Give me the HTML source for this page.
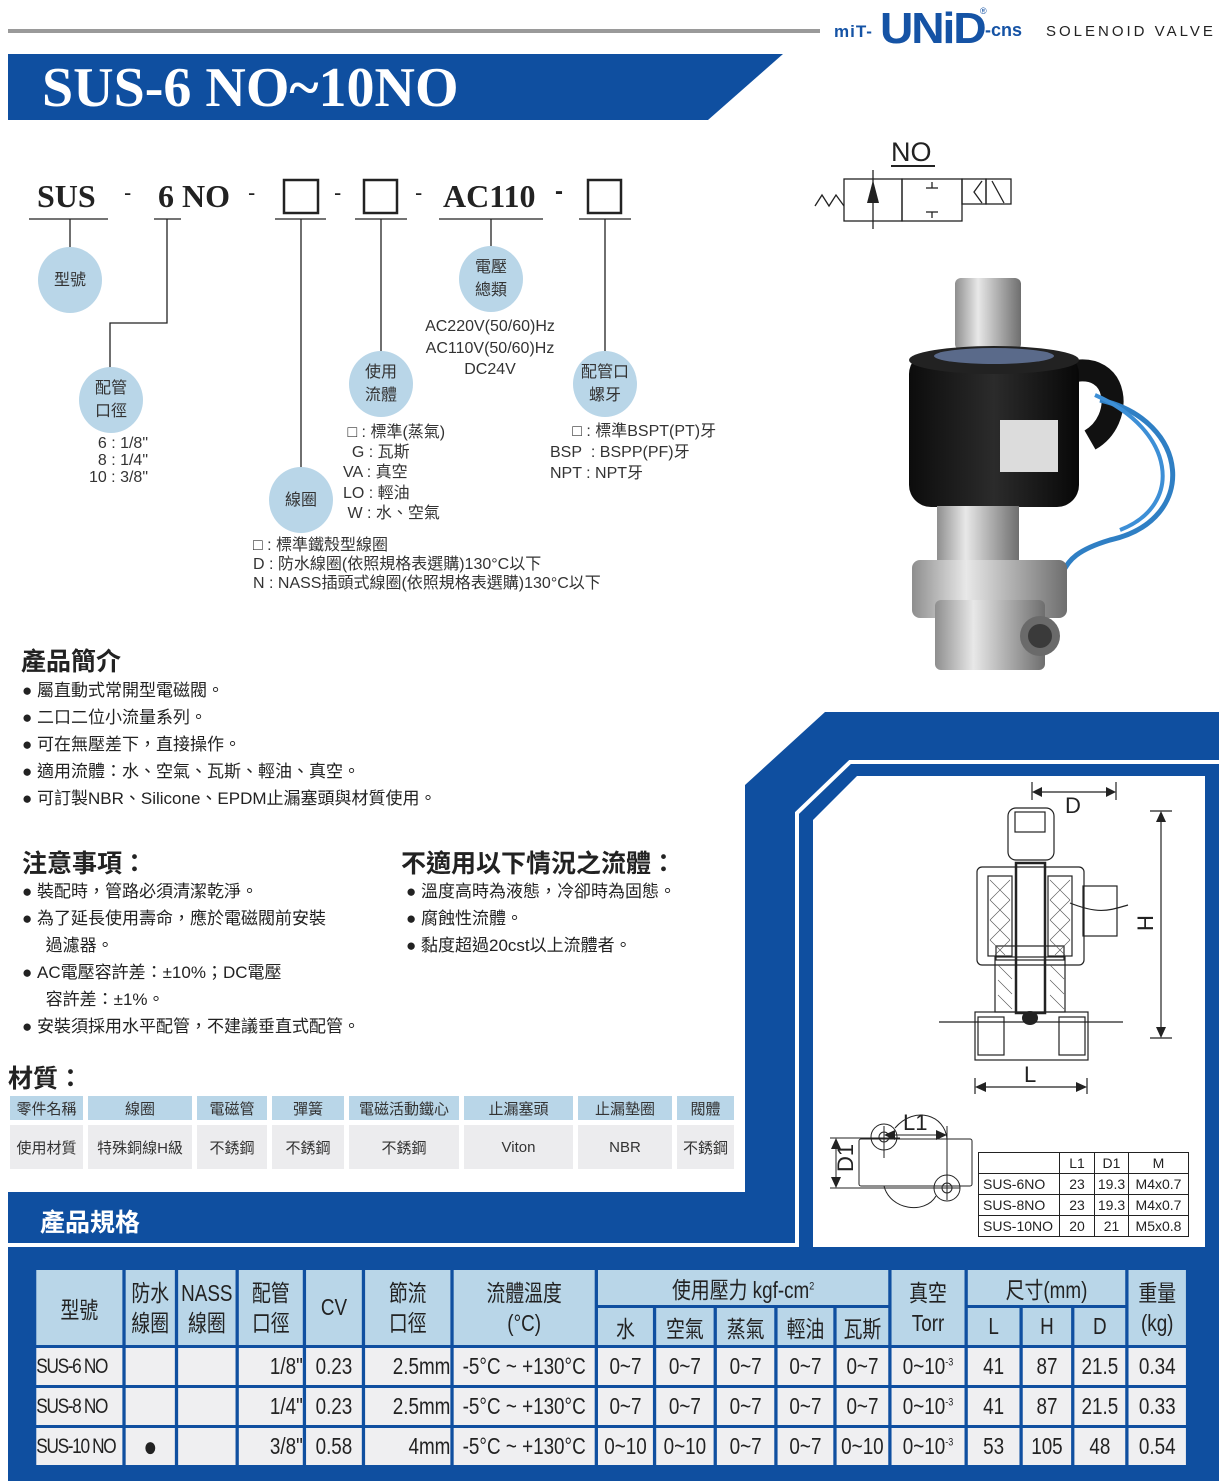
<!DOCTYPE html>
<html><head><meta charset="utf-8">
<style>
*{margin:0;padding:0;box-sizing:border-box}
body{width:1229px;height:1481px;position:relative;background:#fff;overflow:hidden;font-family:"Liberation Sans","Noto Sans CJK TC",sans-serif;color:#222}
.a{position:absolute;white-space:nowrap}
.serif{font-family:"Liberation Serif","Noto Serif CJK SC",serif;font-weight:bold}
.c{position:absolute;background:#b9d6e8;border-radius:50%;width:64px;height:66px;display:flex;align-items:center;justify-content:center;text-align:center;font-size:16px;line-height:23px;color:#333}
.t15{font-size:15px;line-height:19px;color:#333}
.h2{font-size:25px;font-weight:bold;color:#222}
.b{font-size:17px;color:#222}
table{border-collapse:separate;position:absolute}
#spec{left:33px;top:1267px;width:1410px;table-layout:fixed;border-spacing:4px 3px;font-size:23px;color:#222;transform:scaleX(0.82);transform-origin:0 0}
#spec td{text-align:center;padding:0;white-space:nowrap;overflow:hidden}
#spec td.m{text-align:left;font-size:21px;letter-spacing:-1.6px}
#spec .h td{background:#b9d6e8}
#spec .d td{background:#efeff1;height:37px}
#mat{left:5px;top:1091px;border-spacing:5px 5px;font-size:15px;color:#333}
#mat td{text-align:center;padding:0;white-space:nowrap}
#mat .h td{background:#b9d6e8;height:24px}
#mat .d td{background:#ececee;height:44px}
#dim{position:absolute;left:978px;top:1152px;border-collapse:collapse;font-size:14px;color:#222}
#dim td{border:1px solid #222;height:21px;text-align:center;padding:0}
</style></head><body>

<div class="a" style="left:8px;top:29px;width:812px;height:4px;background:#9a9a9a"></div>
<div class="a" style="left:834px;top:22px;font-size:17px;font-weight:bold;color:#1553a5;letter-spacing:1px">miT-</div>
<div class="a" style="left:880px;top:6px;font-size:44px;font-weight:bold;color:#1553a5;letter-spacing:-2px;line-height:46px;transform:scaleX(1.05);transform-origin:left">UNiD</div>
<div class="a" style="left:980px;top:6px;font-size:9px;color:#1553a5">®</div>
<div class="a" style="left:985px;top:20px;font-size:18px;font-weight:bold;color:#1553a5">-cns</div>
<div class="a" style="left:1046px;top:23px;font-size:15px;letter-spacing:3px;color:#222">SOLENOID VALVE</div>

<svg class="a" style="left:0;top:0" width="1229" height="1481">
<polygon points="8,54 783,54 708,120 8,120" fill="#0f4fa0"/>
<polygon points="745,785 825,712 1219,712 1219,1481 8,1481 8,1192 745,1192" fill="#0f4fa0"/>
<polyline points="8,1245 797,1245 797,813 850,762 1219,762" fill="none" stroke="#fff" stroke-width="4"/>
<polygon points="813,820 857,776 1205,776 1205,1247 813,1247" fill="#fff"/>

<g stroke="#222" stroke-width="1.3" fill="none">
<line x1="29" y1="219" x2="108" y2="219"/><line x1="154" y1="219" x2="181" y2="219"/>
<line x1="275" y1="219" x2="326" y2="219"/><line x1="355" y1="219" x2="407" y2="219"/>
<line x1="439" y1="219" x2="543" y2="219"/><line x1="579" y1="219" x2="631" y2="219"/>
<line x1="70" y1="219" x2="70" y2="250"/>
<polyline points="167,219 167,323 110,323 110,370"/>
<line x1="301" y1="219" x2="301" y2="470"/>
<line x1="381" y1="219" x2="381" y2="355"/>
<line x1="491" y1="219" x2="491" y2="248"/>
<line x1="605" y1="219" x2="605" y2="355"/>
</g>
<g stroke="#222" stroke-width="2.5" fill="none">
<rect x="284" y="180" width="34" height="33"/><rect x="364" y="180" width="33" height="33"/><rect x="588" y="180" width="33" height="33"/>
</g>

<g stroke="#222" stroke-width="1.3" fill="none">
<line x1="891" y1="166" x2="935" y2="166" stroke-width="2"/>
<rect x="844" y="179" width="58" height="42"/><rect x="902" y="179" width="60" height="42"/>
<rect x="962" y="179" width="24" height="25"/><rect x="986" y="179" width="25" height="25"/>
<polyline points="815,206 822,195 829,206 836,195 844,206"/>
<line x1="873" y1="170" x2="873" y2="229"/>
<line x1="932" y1="182" x2="932" y2="188"/><line x1="926" y1="188" x2="938" y2="188"/>
<line x1="932" y1="212" x2="932" y2="218"/><line x1="926" y1="212" x2="938" y2="212"/>
<polyline points="982,181 974,192 982,203"/><line x1="992" y1="181" x2="1004" y2="203"/>
</g>
<polygon points="873,180 867,203 879,203" fill="#222"/>

<defs>
<linearGradient id="ss" x1="0" x2="1"><stop offset="0" stop-color="#8e8e8e"/><stop offset=".35" stop-color="#e8e8e8"/><stop offset=".6" stop-color="#b8b8b8"/><stop offset="1" stop-color="#6e6e6e"/></linearGradient>
<linearGradient id="bk" x1="0" x2="1"><stop offset="0" stop-color="#0c0c0c"/><stop offset=".5" stop-color="#2b2b2b"/><stop offset="1" stop-color="#080808"/></linearGradient>
</defs>
<rect x="955" y="278" width="66" height="72" rx="6" fill="url(#ss)"/>
<path d="M1070 372 C1120 360 1125 420 1090 440" stroke="#111" stroke-width="22" fill="none"/>
<path d="M1100 400 C1190 420 1200 520 1110 540 C1060 555 1070 570 1055 580" stroke="#2f7fc4" stroke-width="5" fill="none"/>
<path d="M1095 395 C1175 430 1185 505 1120 530" stroke="#3d8fd6" stroke-width="4" fill="none"/>
<rect x="909" y="352" width="170" height="155" rx="22" fill="url(#bk)"/>
<ellipse cx="994" cy="360" rx="85" ry="14" fill="#222"/>
<ellipse cx="994" cy="356" rx="60" ry="8" fill="#5a6a8a"/>
<rect x="1000" y="420" width="58" height="52" fill="#dcdcdc"/>
<rect x="937" y="506" width="82" height="62" fill="url(#ss)"/>
<rect x="912" y="560" width="155" height="58" rx="8" fill="url(#ss)"/>
<rect x="935" y="600" width="110" height="70" rx="6" fill="url(#ss)"/>
<circle cx="1040" cy="636" r="20" fill="#6a6a6a"/><circle cx="1040" cy="636" r="12" fill="#3a3a3a"/>

<g stroke="#222" stroke-width="1.2" fill="none">
<line x1="1032" y1="782" x2="1032" y2="800"/><line x1="1116" y1="782" x2="1116" y2="800"/>
<line x1="1038" y1="792" x2="1110" y2="792"/>
<line x1="1150" y1="811" x2="1172" y2="811"/><line x1="1150" y1="1038" x2="1172" y2="1038"/>
<line x1="1161" y1="818" x2="1161" y2="1030"/>
<line x1="975" y1="1078" x2="975" y2="1094"/><line x1="1087" y1="1078" x2="1087" y2="1094"/>
<line x1="981" y1="1087" x2="1081" y2="1087"/>
<rect x="1008" y="808" width="46" height="52" rx="8"/>
<rect x="1015" y="812" width="30" height="20"/>
<rect x="977" y="867" width="107" height="98" rx="5"/>
<rect x="988" y="876" width="24" height="80"/><rect x="1048" y="876" width="24" height="80"/>
<rect x="1016" y="863" width="29" height="150" stroke-width="2.5"/>
<rect x="1083" y="886" width="34" height="50"/>
<rect x="996" y="946" width="68" height="14"/>
<rect x="995" y="957" width="70" height="55"/>
<rect x="975" y="1012" width="113" height="48"/>
<rect x="978" y="1017" width="26" height="38"/><rect x="1059" y="1017" width="26" height="38"/>
<line x1="939" y1="1022" x2="1123" y2="1022"/>
<path d="M1070 903 C1100 915 1110 910 1128 905"/>
</g>
<g stroke="#555" stroke-width=".6">
<path d="M990 880 L1010 900 M990 900 L1010 880 M990 900 L1010 920 M990 920 L1010 900 M990 920 L1010 940 M990 940 L1010 920 M990 940 L1005 955 M995 955 L1010 940"/>
<path d="M1050 880 L1070 900 M1050 900 L1070 880 M1050 900 L1070 920 M1050 920 L1070 900 M1050 920 L1070 940 M1050 940 L1070 920 M1050 940 L1065 955 M1055 955 L1070 940"/>
<path d="M998 965 L1012 979 M998 980 L1012 994 M998 995 L1012 1009 M1050 965 L1064 979 M1050 980 L1064 994 M1050 995 L1064 1009"/>
</g>
<ellipse cx="1030" cy="1018" rx="8" ry="7" fill="#222"/>
<g fill="#222">
<polygon points="1032,792 1042,787 1042,797"/><polygon points="1116,792 1106,787 1106,797"/>
<polygon points="1161,811 1156,822 1166,822"/><polygon points="1161,1038 1156,1027 1166,1027"/>
<polygon points="975,1087 986,1082 986,1092"/><polygon points="1087,1087 1076,1082 1076,1092"/>
<polygon points="884,1135 895,1130 895,1140"/><polygon points="947,1135 936,1130 936,1140"/>
<polygon points="836,1138 831,1149 841,1149"/><polygon points="836,1188 831,1177 841,1177"/>
</g>
<g stroke="#222" stroke-width="1" fill="none">
<rect x="859" y="1139" width="113" height="47" rx="2"/>
<circle cx="884" cy="1137" r="13"/><circle cx="884" cy="1137" r="5"/>
<circle cx="947" cy="1188" r="13"/><circle cx="947" cy="1188" r="5"/>
<path d="M895 1128 C915 1105 945 1115 947 1139"/><path d="M884 1186 C890 1210 925 1215 936 1196"/>
<line x1="884" y1="1126" x2="884" y2="1158"/><line x1="947" y1="1126" x2="947" y2="1200"/>
<line x1="830" y1="1138" x2="900" y2="1138"/><line x1="830" y1="1188" x2="960" y2="1188"/>
<line x1="836" y1="1142" x2="836" y2="1184"/><line x1="890" y1="1135" x2="941" y2="1135"/>
</g>
</svg>

<div class="a" style="left:891px;top:137px;font-size:27px;color:#222">NO</div>

<div class="a serif" style="left:42px;top:56px;font-size:56px;color:#fff;line-height:64px">SUS-6 NO~10NO</div>

<div class="a serif" style="left:37px;top:176px;font-size:32px;line-height:40px">SUS</div>
<div class="a" style="left:124px;top:180px;font-size:22px">-</div>
<div class="a serif" style="left:158px;top:176px;font-size:32px;line-height:40px">6 NO</div>
<div class="a" style="left:248px;top:180px;font-size:22px">-</div>
<div class="a" style="left:334px;top:180px;font-size:22px">-</div>
<div class="a" style="left:415px;top:180px;font-size:22px">-</div>
<div class="a serif" style="left:443px;top:176px;font-size:32px;line-height:40px">AC110</div>
<div class="a" style="left:555px;top:178px;font-size:24px;font-weight:bold">-</div>

<div class="c" style="left:38px;top:247px">型號</div>
<div class="c" style="left:79px;top:367px">配管<br>口徑</div>
<div class="c" style="left:269px;top:467px">線圈</div>
<div class="c" style="left:349px;top:351px">使用<br>流體</div>
<div class="c" style="left:459px;top:246px">電壓<br>總類</div>
<div class="c" style="left:573px;top:351px">配管口<br>螺牙</div>

<div class="a t15" style="left:78px;top:435px;text-align:right;width:70px;line-height:17px;font-size:16px">6 : 1/8"<br>8 : 1/4"<br>10 : 3/8"</div>
<div class="a t15" style="left:405px;top:316px;text-align:center;width:170px;line-height:21.5px;font-size:16px">AC220V(50/60)Hz<br>AC110V(50/60)Hz<br>DC24V</div>
<div class="a t15" style="left:343px;top:423px;line-height:20.2px;font-size:16px">&nbsp;□ : 標準(蒸氣)<br>&nbsp;&nbsp;G : 瓦斯<br>VA : 真空<br>LO : 輕油<br>&nbsp;W : 水、空氣</div>
<div class="a t15" style="left:550px;top:421px;line-height:21px;font-size:16px">&nbsp;&nbsp;&nbsp;&nbsp;&nbsp;□ : 標準BSPT(PT)牙<br>BSP&nbsp; : BSPP(PF)牙<br>NPT : NPT牙</div>
<div class="a t15" style="left:253px;top:536px;line-height:19px;font-size:16px">□ : 標準鐵殼型線圈<br>D : 防水線圈(依照規格表選購)130°C以下<br>N : NASS插頭式線圈(依照規格表選購)130°C以下</div>

<div class="a h2" style="left:21px;top:642px">產品簡介</div>
<div class="a b" style="left:22px;top:677px;line-height:27px">● 屬直動式常開型電磁閥。<br>● 二口二位小流量系列。<br>● 可在無壓差下，直接操作。<br>● 適用流體：水、空氣、瓦斯、輕油、真空。<br>● 可訂製NBR、Silicone、EPDM止漏塞頭與材質使用。</div>

<div class="a h2" style="left:22px;top:844px">注意事項：</div>
<div class="a b" style="left:22px;top:878px;line-height:27px">● 裝配時，管路必須清潔乾淨。<br>● 為了延長使用壽命，應於電磁閥前安裝<br>&nbsp;&nbsp;&nbsp;&nbsp;&nbsp;過濾器。<br>● AC電壓容許差：±10%；DC電壓<br>&nbsp;&nbsp;&nbsp;&nbsp;&nbsp;容許差：±1%。<br>● 安裝須採用水平配管，不建議垂直式配管。</div>

<div class="a h2" style="left:401px;top:844px">不適用以下情況之流體：</div>
<div class="a b" style="left:406px;top:878px;line-height:27px">● 溫度高時為液態，冷卻時為固態。<br>● 腐蝕性流體。<br>● 黏度超過20cst以上流體者。</div>

<div class="a h2" style="left:8px;top:1059px">材質：</div>
<table id="mat">
<tr class="h"><td style="width:73px">零件名稱</td><td style="width:104px">線圈</td><td style="width:70px">電磁管</td><td style="width:72px">彈簧</td><td style="width:110px">電磁活動鐵心</td><td style="width:109px">止漏塞頭</td><td style="width:94px">止漏墊圈</td><td style="width:57px">閥體</td></tr>
<tr class="d"><td>使用材質</td><td>特殊銅線H級</td><td>不銹鋼</td><td>不銹鋼</td><td>不銹鋼</td><td>Viton</td><td>NBR</td><td>不銹鋼</td></tr>
</table>

<div class="a" style="left:40px;top:1203px;font-size:25px;font-weight:bold;color:#fff">產品規格</div>

<div class="a" style="left:1065px;top:793px;font-size:22px">D</div>
<div class="a" style="left:1138px;top:910px;font-size:22px;transform:rotate(-90deg)">H</div>
<div class="a" style="left:1024px;top:1062px;font-size:22px">L</div>
<div class="a" style="left:903px;top:1110px;font-size:22px">L1</div>
<div class="a" style="left:833px;top:1172px;font-size:22px;transform:rotate(-90deg);transform-origin:0 0">D1</div>
<table id="dim">
<tr><td style="width:81px"></td><td style="width:35px">L1</td><td style="width:34px">D1</td><td style="width:60px">M</td></tr>
<tr><td style="text-align:left;padding-left:4px">SUS-6NO</td><td>23</td><td>19.3</td><td>M4x0.7</td></tr>
<tr><td style="text-align:left;padding-left:4px">SUS-8NO</td><td>23</td><td>19.3</td><td>M4x0.7</td></tr>
<tr><td style="text-align:left;padding-left:4px">SUS-10NO</td><td>20</td><td>21</td><td>M5x0.8</td></tr>
</table>

<table id="spec">
<colgroup><col style="width:105px"><col style="width:60px"><col style="width:70px"><col style="width:78px"><col style="width:68px"><col style="width:104px"><col style="width:172px"><col style="width:67px"><col style="width:70px"><col style="width:70px"><col style="width:68px"><col style="width:63px"><col style="width:89px"><col style="width:63px"><col style="width:59px"><col style="width:62px"><col style="width:70px"></colgroup>
<tr class="h" style="height:35px">
<td rowspan="2">型號</td><td rowspan="2" style="line-height:30px">防水<br>線圈</td><td rowspan="2" style="line-height:30px">NASS<br>線圈</td><td rowspan="2" style="line-height:30px">配管<br>口徑</td><td rowspan="2">CV</td><td rowspan="2" style="line-height:30px">節流<br>口徑</td><td rowspan="2" style="line-height:30px">流體溫度<br>(°C)</td>
<td colspan="5">使用壓力 kgf-cm<sup style="font-size:11px">2</sup></td>
<td rowspan="2" style="line-height:30px">真空<br>Torr</td>
<td colspan="3">尺寸(mm)</td>
<td rowspan="2" style="line-height:30px">重量<br>(kg)</td></tr>
<tr class="h" style="height:37px"><td>水</td><td>空氣</td><td>蒸氣</td><td>輕油</td><td>瓦斯</td><td>L</td><td>H</td><td>D</td></tr>
<tr class="d"><td class="m">SUS-6 NO</td><td></td><td></td><td style="text-align:right">1/8"</td><td>0.23</td><td style="text-align:right">2.5mm</td><td>-5°C ~ +130°C</td><td>0~7</td><td>0~7</td><td>0~7</td><td>0~7</td><td>0~7</td><td>0~10<sup style="font-size:11px">-3</sup></td><td>41</td><td>87</td><td>21.5</td><td>0.34</td></tr>
<tr class="d"><td class="m">SUS-8 NO</td><td></td><td></td><td style="text-align:right">1/4"</td><td>0.23</td><td style="text-align:right">2.5mm</td><td>-5°C ~ +130°C</td><td>0~7</td><td>0~7</td><td>0~7</td><td>0~7</td><td>0~7</td><td>0~10<sup style="font-size:11px">-3</sup></td><td>41</td><td>87</td><td>21.5</td><td>0.33</td></tr>
<tr class="d"><td class="m">SUS-10 NO</td><td style="font-size:28px">●</td><td></td><td style="text-align:right">3/8"</td><td>0.58</td><td style="text-align:right">4mm</td><td>-5°C ~ +130°C</td><td>0~10</td><td>0~10</td><td>0~7</td><td>0~7</td><td>0~10</td><td>0~10<sup style="font-size:11px">-3</sup></td><td>53</td><td>105</td><td>48</td><td>0.54</td></tr>
</table>
</body></html>
